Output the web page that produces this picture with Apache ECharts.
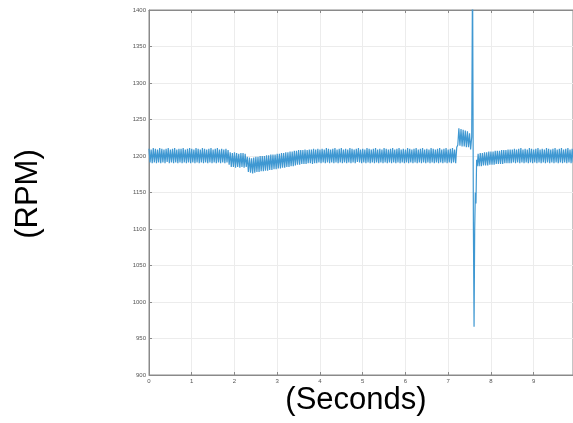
<!DOCTYPE html>
<html>
<head>
<meta charset="utf-8">
<script src="https://cdn.jsdelivr.net/npm/echarts@6/dist/echarts.min.js"></script>
<style>
    html, body { margin: 0; padding: 0; background: #fff; }
    #rpm_con { width: 573px; height: 423px; }
</style>
</head>
<body>
<div id="rpm_con"></div>
<script>
    // sampling step of the readings (s)
    const dt = 0.025;

    // 0 .. 7.525 s, alternating peak / trough of the ripple
    const rpmA = [
        1210, 1191, 1209, 1190, 1211, 1191, 1210, 1190, 1209, 1191, 1211, 1190, 1210, 1191, 1209, 1190, 1210, 1192, 1211, 1190,
        1209, 1191, 1210, 1190, 1211, 1191, 1209, 1190, 1210, 1191, 1210, 1190, 1211, 1191, 1209, 1190, 1210, 1191, 1211, 1190,
        1210, 1191, 1209, 1190, 1211, 1191, 1210, 1190, 1209, 1191, 1211, 1190, 1210, 1191, 1209, 1190, 1210, 1191, 1211, 1190,
        1209, 1191, 1210, 1190, 1211, 1191, 1209, 1190, 1210, 1191, 1209, 1190, 1210, 1191, 1208, 1188, 1205, 1185, 1204, 1185,
        1205, 1184, 1204, 1185, 1203, 1184, 1204, 1185, 1204, 1184, 1203, 1185, 1199, 1178, 1198, 1177, 1197, 1176, 1198, 1177,
        1199, 1178, 1199, 1178, 1200, 1179, 1200, 1179, 1200, 1180, 1201, 1180, 1201, 1181, 1202, 1181, 1202, 1182, 1202, 1182,
        1203, 1183, 1203, 1183, 1204, 1184, 1204, 1184, 1205, 1185, 1205, 1185, 1206, 1186, 1206, 1186, 1207, 1187, 1207, 1188,
        1208, 1188, 1208, 1189, 1208, 1189, 1209, 1189, 1208, 1190, 1209, 1190, 1209, 1189, 1210, 1190, 1209, 1190, 1210, 1191,
        1209, 1190, 1210, 1191, 1209, 1190, 1211, 1191, 1210, 1190, 1209, 1191, 1210, 1190, 1211, 1191, 1209, 1190, 1210, 1191,
        1211, 1190, 1209, 1191, 1210, 1190, 1209, 1191, 1211, 1190, 1210, 1191, 1209, 1190, 1210, 1192, 1211, 1191, 1209, 1190,
        1210, 1191, 1209, 1190, 1211, 1191, 1210, 1190, 1209, 1191, 1210, 1190, 1211, 1191, 1209, 1190, 1210, 1191, 1209, 1190,
        1211, 1191, 1210, 1190, 1209, 1191, 1210, 1190, 1211, 1191, 1209, 1190, 1210, 1191, 1211, 1190, 1209, 1191, 1210, 1190,
        1209, 1191, 1211, 1190, 1210, 1191, 1209, 1190, 1210, 1191, 1211, 1190, 1209, 1191, 1210, 1190, 1211, 1191, 1209, 1190,
        1210, 1191, 1209, 1190, 1211, 1191, 1210, 1190, 1209, 1191, 1210, 1190, 1211, 1191, 1209, 1190, 1210, 1191, 1211, 1190,
        1209, 1191, 1210, 1190, 1211, 1191, 1209, 1190, 1212, 1215, 1238, 1214, 1237, 1213, 1236, 1213, 1235, 1212, 1234, 1212,
        1231, 1209
    ];

    // the transient around 7.6 s
    const spikeT = [7.55, 7.57, 7.59, 7.605, 7.62, 7.635, 7.65, 7.665, 7.68];
    const spikeV = [1226, 1460, 1100, 966, 1100, 1150, 1135, 1195, 1186];

    // 7.7 s to the end
    const startB = 7.7;
    const rpmB = [
        1203, 1186, 1204, 1186, 1204, 1187, 1205, 1187, 1205, 1187, 1206, 1188, 1206, 1188, 1206, 1188, 1207, 1189, 1207, 1189,
        1207, 1189, 1208, 1189, 1208, 1190, 1208, 1190, 1209, 1190, 1209, 1190, 1209, 1191, 1210, 1190, 1209, 1191, 1210, 1190,
        1211, 1191, 1209, 1190, 1210, 1191, 1209, 1190, 1211, 1191, 1210, 1190, 1209, 1191, 1210, 1190, 1211, 1191, 1209, 1190,
        1210, 1191, 1209, 1190, 1211, 1191, 1210, 1190, 1209, 1191, 1210, 1190, 1211, 1191, 1209, 1190, 1210, 1191, 1211, 1190,
        1209, 1191, 1210, 1190, 1211, 1191, 1209, 1190, 1210, 1191
    ];

    const xTicks = [0, 1, 2, 3, 4, 5, 6, 7, 8, 9];
    const yTicks = [900, 950, 1000, 1050, 1100, 1150, 1200, 1250, 1300, 1350, 1400];

    const points = [];
    rpmA.forEach(function (v, i) { points.push([+(i * dt).toFixed(3), v]); });
    spikeT.forEach(function (t, i) { points.push([t, spikeV[i]]); });
    rpmB.forEach(function (v, i) { points.push([+(startB + i * dt).toFixed(3), v]); });

    const gridColor = '#ececec';
    const axisColor = '#8a8a8a';
    const titleFont = 'Liberation Sans, Arial';
    const labelStyle = { fontSize: 6, color: '#555', fontFamily: titleFont };

    const option = {
        backgroundColor: '#fff',
        animation: false,
        grid: {
            left: 149,
            right: 0,
            top: 10,
            bottom: 48,
            show: true,
            borderColor: axisColor,
            borderWidth: 1
        },
        graphic: [
            {
                type: 'text',
                x: 28,
                y: 194,
                rotation: Math.PI / 2,
                style: {
                    text: '(RPM)',
                    font: '31px ' + titleFont,
                    fill: '#000',
                    align: 'center',
                    verticalAlign: 'middle'
                }
            },
            {
                type: 'text',
                x: 356,
                y: 400,
                style: {
                    text: '(Seconds)',
                    font: '31px ' + titleFont,
                    fill: '#000',
                    align: 'center',
                    verticalAlign: 'middle'
                }
            }
        ],
        xAxis: [
            {
                type: 'value',
                min: xTicks[0],
                max: 9.92,
                interval: 1,
                axisLine: { show: true, lineStyle: { color: axisColor } },
                axisTick: { show: true, inside: true, length: 3, lineStyle: { color: axisColor } },
                axisLabel: Object.assign({ margin: 3, showMaxLabel: false }, labelStyle),
                splitLine: { show: true, lineStyle: { color: gridColor } }
            },
            {
                type: 'value',
                position: 'top',
                min: xTicks[0],
                max: 9.92,
                interval: 1,
                axisLine: { show: true, lineStyle: { color: axisColor } },
                axisTick: { show: true, inside: true, length: 3, lineStyle: { color: axisColor } },
                axisLabel: { show: false },
                splitLine: { show: false }
            }
        ],
        yAxis: {
            type: 'value',
            min: yTicks[0],
            max: yTicks[yTicks.length - 1],
            interval: 50,
            axisLine: { show: true, lineStyle: { color: axisColor } },
            axisTick: { show: true, inside: true, length: 3, lineStyle: { color: axisColor } },
            axisLabel: Object.assign({
                margin: 3,
                formatter: function (v) { return String(v); }
            }, labelStyle),
            splitLine: { show: true, lineStyle: { color: gridColor } }
        },
        series: [
            {
                type: 'line',
                symbol: 'none',
                clip: true,
                lineStyle: { color: '#3f98d2', width: 1.2 },
                data: points
            }
        ]
    };
    const rpmChart = echarts.init(document.getElementById('rpm_con'));
    rpmChart.setOption(option);
    window.addEventListener('resize', function () {
        rpmChart.resize();
    });
</script>
</body>
</html>
